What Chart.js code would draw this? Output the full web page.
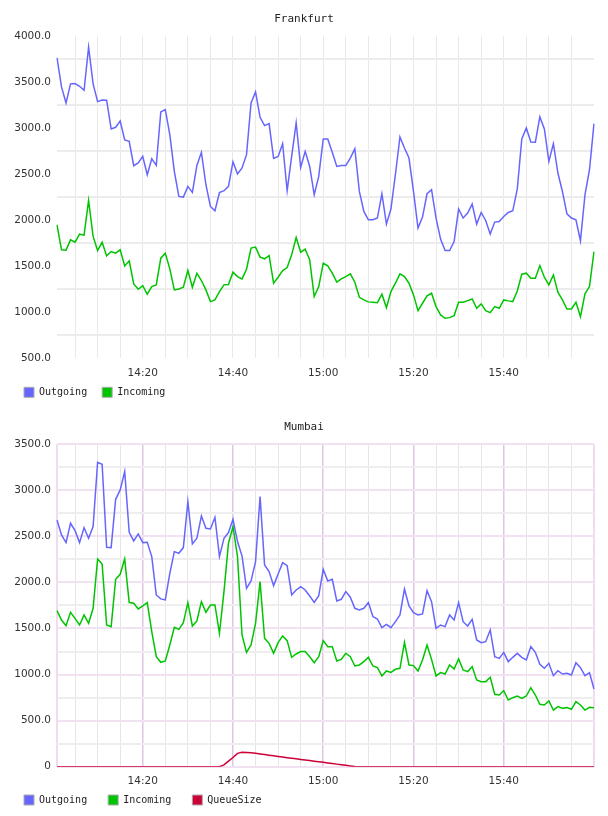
<!DOCTYPE html>
<html>
<head>
<meta charset="utf-8">
<script src="https://cdn.jsdelivr.net/npm/chart.js@4.4.1/dist/chart.umd.min.js"></script>
<style>
  html, body { margin: 0; padding: 0; background: #fff; }
  .box { position: absolute; left: 0; width: 608px; height: 408px; }
</style>
</head>
<body>
<div class="box" style="top:0"><canvas id="frankfurt"></canvas></div>
<div class="box" style="top:408px"><canvas id="mumbai"></canvas></div>
<script>
const times = [
  "14:01","14:02","14:03","14:04","14:05","14:06","14:07","14:08","14:09","14:10",
  "14:11","14:12","14:13","14:14","14:15","14:16","14:17","14:18","14:19","14:20",
  "14:21","14:22","14:23","14:24","14:25","14:26","14:27","14:28","14:29","14:30",
  "14:31","14:32","14:33","14:34","14:35","14:36","14:37","14:38","14:39","14:40",
  "14:41","14:42","14:43","14:44","14:45","14:46","14:47","14:48","14:49","14:50",
  "14:51","14:52","14:53","14:54","14:55","14:56","14:57","14:58","14:59","15:00",
  "15:01","15:02","15:03","15:04","15:05","15:06","15:07","15:08","15:09","15:10",
  "15:11","15:12","15:13","15:14","15:15","15:16","15:17","15:18","15:19","15:20",
  "15:21","15:22","15:23","15:24","15:25","15:26","15:27","15:28","15:29","15:30",
  "15:31","15:32","15:33","15:34","15:35","15:36","15:37","15:38","15:39","15:40",
  "15:41","15:42","15:43","15:44","15:45","15:46","15:47","15:48","15:49","15:50",
  "15:51","15:52","15:53","15:54","15:55","15:56","15:57","15:58","15:59","16:00"
];
const tickLabels = ["14:20", "14:40", "15:00", "15:20", "15:40"];

// Frankfurt
const fraOutgoing = [
  3765, 3449, 3275, 3482, 3486, 3456, 3412, 3880, 3482, 3289,
  3307, 3305, 2992, 3010, 3079, 2872, 2857, 2593, 2622, 2694,
  2495, 2669, 2596, 3177, 3202, 2930, 2531, 2259, 2252, 2368,
  2302, 2596, 2738, 2386, 2150, 2103, 2302, 2321, 2368, 2636,
  2502, 2568, 2713, 3275, 3395, 3119, 3028, 3050, 2672, 2694,
  2832, 2321, 2694, 3058, 2574, 2749, 2585, 2277, 2476, 2883,
  2883, 2738, 2585, 2596, 2596, 2676, 2778, 2313, 2096, 2005,
  2005, 2024, 2288, 1958, 2122, 2500, 2905, 2785, 2676, 2313,
  1915, 2035, 2288, 2332, 2024, 1795, 1671, 1671, 1769, 2122,
  2024, 2078, 2176, 1958, 2085, 1998, 1850, 1980, 1987, 2041,
  2085, 2103, 2340, 2883, 3003, 2850, 2849, 3123, 2992, 2640,
  2832, 2513, 2313, 2070, 2024, 2005, 1777, 2277, 2549, 3050
];
const fraIncoming = [
  1951, 1679, 1675, 1787, 1762, 1849, 1838, 2215, 1824, 1671,
  1762, 1613, 1660, 1642, 1679, 1504, 1559, 1308, 1250, 1290,
  1196, 1280, 1298, 1588, 1642, 1472, 1243, 1254, 1272, 1454,
  1272, 1425, 1345, 1243, 1116, 1134, 1225, 1298, 1301, 1436,
  1388, 1363, 1468, 1697, 1708, 1599, 1581, 1617, 1316, 1381,
  1454, 1486, 1624, 1813, 1653, 1686, 1570, 1171, 1280, 1533,
  1504, 1425, 1327, 1363, 1388, 1417, 1327, 1163, 1134, 1113,
  1109, 1105, 1196, 1051, 1225, 1316, 1417, 1388, 1316, 1189,
  1018, 1098, 1178, 1207, 1062, 971, 935, 942, 964, 1109,
  1109, 1127, 1145, 1044, 1091, 1018, 996, 1062, 1044, 1134,
  1124, 1116, 1232, 1414, 1425, 1370, 1370, 1508, 1381, 1298,
  1406, 1218, 1134, 1036, 1036, 1109, 953, 1200, 1280, 1660
];

// Mumbai
const bomOutgoing = [
  2678, 2515, 2432, 2642, 2562, 2432, 2595, 2479, 2606, 3304,
  3282, 2381, 2378, 2902, 3004, 3203, 2544, 2450, 2526, 2432,
  2436, 2280, 1864, 1821, 1810, 2099, 2334, 2316, 2378, 2877,
  2418, 2479, 2721, 2588, 2580, 2707, 2280, 2479, 2541, 2685,
  2443, 2287, 1936, 2016, 2226, 2931, 2190, 2117, 1965, 2092,
  2215, 2182, 1864, 1918, 1954, 1918, 1853, 1784, 1857, 2143,
  2016, 2034, 1799, 1817, 1900, 1839, 1719, 1701, 1719, 1781,
  1629, 1603, 1509, 1545, 1509, 1574, 1647, 1929, 1744, 1672,
  1647, 1658, 1911, 1791, 1502, 1538, 1520, 1647, 1592, 1781,
  1574, 1527, 1600, 1375, 1346, 1357, 1484, 1194, 1176, 1241,
  1140, 1187, 1230, 1187, 1158, 1303, 1241, 1111, 1068, 1122,
  988, 1042, 1006, 1014, 995, 1129, 1075, 988, 1021, 843
];
const bomIncoming = [
  1694, 1592, 1531, 1676, 1610, 1538, 1647, 1556, 1719, 2255,
  2200, 1538, 1520, 2034, 2088, 2255, 1781, 1774, 1712, 1745,
  1781, 1466, 1194, 1133, 1147, 1321, 1513, 1491, 1563, 1781,
  1527, 1582, 1791, 1676, 1755, 1755, 1448, 1900, 2425, 2606,
  2280, 1430, 1241, 1321, 1556, 2009, 1393, 1339, 1231, 1346,
  1419, 1368, 1187, 1223, 1249, 1249, 1194, 1129, 1194, 1368,
  1303, 1303, 1147, 1165, 1231, 1194, 1093, 1104, 1140, 1187,
  1093, 1075, 985, 1039, 1024, 1057, 1068, 1350, 1104, 1097,
  1039, 1158, 1321, 1165, 985, 1021, 1006, 1104, 1061, 1169,
  1050, 1032, 1086, 941, 923, 923, 970, 786, 778, 825,
  724, 749, 767, 742, 767, 858, 778, 677, 670, 713,
  615, 652, 634, 641, 623, 706, 670, 615, 645, 641
];
const bomQueue = [
  0, 0, 0, 0, 0, 0, 0, 0, 0, 0,
  0, 0, 0, 0, 0, 0, 0, 0, 0, 0,
  0, 0, 0, 0, 0, 0, 0, 0, 0, 0,
  0, 0, 0, 0, 0, 0, 0, 20, 60, 100,
  145, 156, 155, 152, 145, 138, 132, 125, 118, 111,
  104, 98, 91, 85, 78, 72, 66, 59, 53, 47,
  41, 34, 28, 21, 15, 8, 2, 0, 0, 0,
  0, 0, 0, 0, 0, 0, 0, 0, 0, 0,
  0, 0, 0, 0, 0, 0, 0, 0, 0, 0,
  0, 0, 0, 0, 0, 0, 0, 0, 0, 0,
  0, 0, 0, 0, 0, 0, 0, 0, 0, 0,
  0, 0, 0, 0, 0, 0, 0, 0, 0, 0
];

const blue = "#6666ff";
const green = "#00c400";
const red = "#cc0036";
const none = "rgba(0,0,0,0)";

Chart.defaults.font.family = "DejaVu Sans";
Chart.defaults.animation = false;

// the legend sits closer to the tick labels than its item spacing would allow,
// so pull its top edge up (the bottom stays, the legend clips to its own box)
const legendShift = {
  id: "legendShift",
  afterLayout(chart, args, opts) {
    chart.legend.top += opts.dy;
  }
};

function minuteOf(i) {
  return parseInt(times[i].slice(3), 10);
}

function line(label, data, color) {
  return {
    label: label,
    data: data,
    yAxisID: "y",
    borderColor: color,
    backgroundColor: color,
    borderWidth: 1.5,
    pointRadius: 0,
    tension: 0,
    fill: false
  };
}

function legendOpts(pad, maxH) {
  return {
    position: "bottom",
    align: "start",
    maxHeight: maxH,
    labels: {
      boxWidth: 10,
      boxHeight: 10,
      padding: pad,
      color: "#222",
      font: { family: "DejaVu Sans Mono", size: 10 },
      generateLabels: function (chart) {
        const items = Chart.defaults.plugins.legend.labels.generateLabels(chart);
        items.forEach(function (it) { it.strokeStyle = "#aaa"; it.lineWidth = 1; });
        return items;
      }
    }
  };
}

function titleOpts(text) {
  return {
    display: true,
    text: text,
    color: "#222",
    font: { family: "DejaVu Sans Mono", size: 11, weight: "normal" },
    padding: { top: 10, bottom: 10 }
  };
}

function xTicks() {
  return {
    autoSkip: false,
    maxRotation: 0,
    minRotation: 0,
    padding: 8.7,
    color: "#333",
    font: { size: 10.5 },
    callback: function (v, i) { return tickLabels.includes(times[i]) ? times[i] : ""; }
  };
}

// ---- Frankfurt ----
new Chart("frankfurt", {
  type: "line",
  data: {
    labels: times,
    datasets: [
      line("Outgoing", fraOutgoing, blue),
      line("Incoming", fraIncoming, green)
    ]
  },
  plugins: [legendShift],
  options: {
    responsive: true,
    maintainAspectRatio: false,
    layout: { padding: { top: 3, left: 9, right: 9, bottom: 1 } },
    plugins: {
      title: titleOpts("Frankfurt"),
      legend: legendOpts(15, 26.7),
      legendShift: { dy: -8 },
      tooltip: { enabled: false }
    },
    scales: {
      x: {
        type: "category",
        border: { display: false },
        grid: {
          drawTicks: false,
          color: function (ctx) {
            const i = ctx.index;
            if (i === 0 || i === times.length - 1) return none;
            return minuteOf(i) % 5 === 0 ? "#e9e9e9" : none;
          },
          lineWidth: 1
        },
        ticks: xTicks(),
        afterFit: function (s) { s.height = 22; }
      },
      y: {
        min: 500,
        max: 4000,
        border: { display: false },
        grid: {
          drawTicks: false,
          color: function (ctx) { return ctx.tick.value % 500 !== 0 ? "#ececec" : none; },
          lineWidth: 2
        },
        ticks: {
          stepSize: 250,
          padding: 6,
          color: "#333",
          font: { size: 10.5 },
          callback: function (v) { return v % 500 === 0 ? v.toFixed(1) : ""; }
        },
        afterFit: function (s) { s.width = 48; }
      },
      pad: {
        position: "right",
        display: true,
        border: { display: false },
        grid: { display: false },
        ticks: { display: false },
        afterFit: function (s) { s.width = 5; }
      }
    }
  }
});

// ---- Mumbai ----
new Chart("mumbai", {
  type: "line",
  data: {
    labels: times,
    datasets: [
      line("Outgoing", bomOutgoing, blue),
      line("Incoming", bomIncoming, green),
      line("QueueSize", bomQueue, red)
    ]
  },
  plugins: [legendShift],
  options: {
    responsive: true,
    maintainAspectRatio: false,
    layout: { padding: { top: 3, left: 3, right: 3, bottom: 1 } },
    plugins: {
      title: titleOpts("Mumbai"),
      legend: legendOpts(21, 26.3),
      legendShift: { dy: -14.7 },
      tooltip: { enabled: false }
    },
    scales: {
      x: {
        type: "category",
        border: { display: false },
        grid: {
          drawTicks: false,
          color: function (ctx) {
            const i = ctx.index;
            if (i === 0 || i === times.length - 1) return "#efdcef";
            if (tickLabels.includes(times[i])) return "#dfc6e2";
            return minuteOf(i) % 5 === 0 ? "#e6e6e6" : none;
          },
          lineWidth: function (ctx) {
            const i = ctx.index;
            if (i === 0 || i === times.length - 1) return 2;
            return tickLabels.includes(times[i]) ? 1.5 : 1;
          }
        },
        ticks: xTicks(),
        afterFit: function (s) { s.height = 22; }
      },
      y: {
        min: 0,
        max: 3500,
        border: { display: false },
        grid: {
          drawTicks: false,
          color: function (ctx) { return ctx.tick.value % 500 === 0 ? "#f1e2f1" : "#eeeeee"; },
          lineWidth: 2
        },
        ticks: {
          stepSize: 250,
          padding: 6,
          color: "#333",
          font: { size: 10.5 },
          callback: function (v) {
            if (v === 0) return "0";
            return v % 500 === 0 ? v.toFixed(1) : "";
          }
        },
        afterFit: function (s) { s.width = 54; }
      },
      pad: {
        position: "right",
        display: true,
        border: { display: false },
        grid: { display: false },
        ticks: { display: false },
        afterFit: function (s) { s.width = 11; }
      }
    }
  }
});
</script>
</body>
</html>
